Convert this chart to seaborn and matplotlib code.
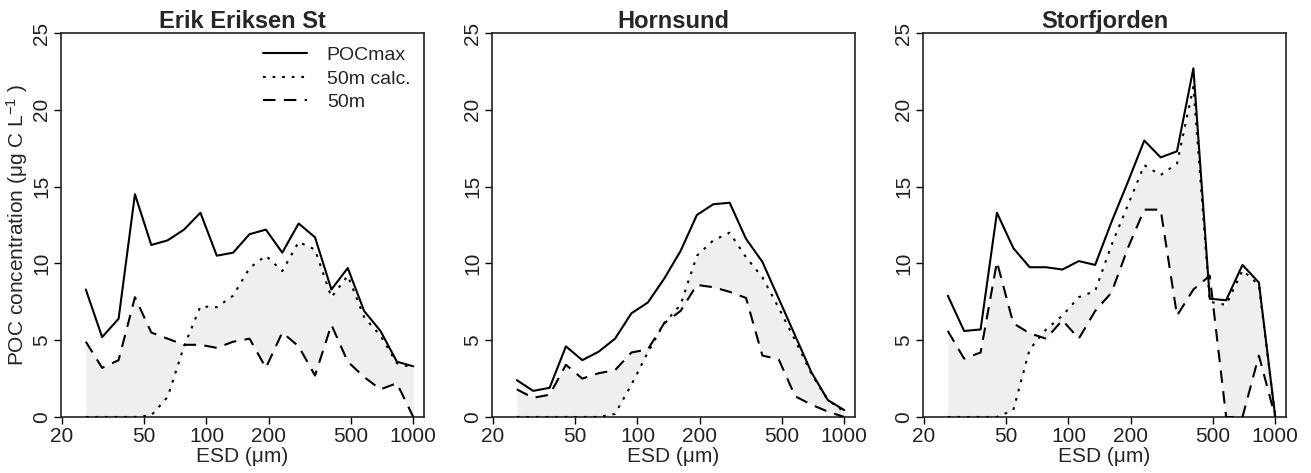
import numpy as np
import pandas as pd
import matplotlib
matplotlib.use("Agg")
import matplotlib.pyplot as plt
import seaborn as sns

# ESD size-class midpoints (um)
esd = [26.1, 31.3, 37.6, 45.1, 54.1, 64.9, 77.9, 93.5, 112.2, 134.6, 161.5,
       193.8, 232.6, 279.1, 334.9, 401.9, 482.3, 578.7, 694.4, 833.3, 1000.0]

stations = ["Erik Eriksen St", "Hornsund", "Storfjorden"]

# Erik Eriksen St
ee_pocmax = [8.3, 5.2, 6.4, 14.5, 11.2, 11.5, 12.2, 13.3, 10.5, 10.7, 11.9,
             12.2, 10.7, 12.6, 11.7, 8.3, 9.7, 6.9, 5.6, 3.6, 3.3]
ee_calc = [0, 0, 0, 0, 0.1, 1.3, 4.6, 7.2, 7.15, 7.9, 9.7,
           10.5, 9.5, 11.4, 10.9, 7.8, 9.2, 6.5, 5.3, 3.5, 3.2]
ee_50m = [4.9, 3.2, 3.7, 7.8, 5.5, 5.1, 4.7, 4.7, 4.5, 4.9, 5.1,
          3.2, 5.5, 4.6, 2.7, 6.0, 3.6, 2.6, 1.8, 2.2, 0.0]

# Hornsund
ho_pocmax = [2.4, 1.7, 1.9, 4.6, 3.7, 4.25, 5.1, 6.75, 7.45, 9.0, 10.8,
             13.15, 13.85, 13.95, 11.6, 10.1, 7.7, 5.3, 2.9, 1.1, 0.45]
ho_calc = [0, 0, 0, 0, 0, 0, 0.2, 2.1, 4.2, 6.1, 7.3,
           10.5, 11.5, 12.0, 10.4, 9.1, 7.1, 5.0, 2.8, 1.1, 0.35]
ho_50m = [1.8, 1.25, 1.45, 3.4, 2.5, 2.85, 3.05, 4.2, 4.4, 6.1, 6.9,
          8.6, 8.45, 8.15, 7.75, 4.0, 3.75, 1.35, 0.8, 0.35, 0.0]

# Storfjorden
st_pocmax = [7.9, 5.6, 5.7, 13.3, 11.0, 9.75, 9.75, 9.6, 10.15, 9.9, 12.7,
             15.3, 18.0, 16.9, 17.3, 22.7, 7.7, 7.6, 9.9, 8.75, 0.0]
st_calc = [0, 0, 0, 0, 0.45, 4.4, 5.7, 6.6, 7.8, 8.2, 11.2,
           13.8, 16.4, 15.75, 16.5, 21.5, 7.5, 7.3, 9.55, 8.6, 0.0]
st_50m = [5.6, 3.8, 4.2, 10.1, 6.1, 5.45, 5.1, 6.3, 5.1, 6.9, 8.1,
          11.0, 13.5, 13.5, 6.6, 8.3, 9.2, 0.0, 0.0, 4.0, 0.0]

series = ["POCmax", "50m calc.", "50m"]
xticks = [20, 50, 100, 200, 500, 1000]
yticks = [0, 5, 10, 15, 20, 25]

sns.set_theme(style="ticks")
plt.rcParams["font.family"] = ["Liberation Sans", "DejaVu Sans"]
plt.rcParams["mathtext.fontset"] = "custom"
plt.rcParams["mathtext.rm"] = "Liberation Sans"
plt.rcParams["mathtext.it"] = "Liberation Sans"

# dash patterns in units of line width (R lty 1 / 3 / 2 look)
dash_map = {"POCmax": None, "50m calc.": (1.3, 3.3), "50m": (6.0, 4.0)}

fig = plt.figure(figsize=(13.11, 4.73), dpi=100)
lefts = [61, 492, 923]
panel_data = [
    (ee_pocmax, ee_calc, ee_50m),
    (ho_pocmax, ho_calc, ho_50m),
    (st_pocmax, st_calc, st_50m),
]

for i, (name, vals) in enumerate(zip(stations, panel_data)):
    ax = fig.add_axes([lefts[i] / 1311, 56 / 473, 363 / 1311, 384 / 473])
    df = pd.DataFrame({"ESD": esd * 3,
                       "POC": vals[0] + vals[1] + vals[2],
                       "series": np.repeat(series, len(esd))})

    # shaded area between calculated and observed 50 m
    ax.fill_between(esd, vals[1], vals[2], color="#efefef", lw=0, zorder=1)

    for s in series:
        sub = df[df["series"] == s]
        sns.lineplot(data=sub, x="ESD", y="POC", ax=ax, color="black",
                     lw=1.5, label=s, legend=False, zorder=3)
        ln = ax.lines[-1]
        if dash_map[s] is not None:
            ln.set_dashes(dash_map[s])
            ln.set_dash_capstyle("butt")

    ax.set_xscale("log")
    ax.set_xlim(19.8, 1127)
    ax.set_ylim(0, 25)
    ax.set_xticks(xticks)
    ax.set_xticklabels([str(t) for t in xticks])
    ax.minorticks_off()
    ax.set_yticks(yticks)
    ax.set_yticklabels([str(t) for t in yticks], rotation=90, va="center")
    ax.tick_params(axis="both", direction="out", length=5, width=1,
                   labelsize=15, pad=2, color="black", labelcolor="#222222")
    for sp in ax.spines.values():
        sp.set_visible(True)
        sp.set_linewidth(1.2)
        sp.set_color("#222222")

    ax.set_xlabel("ESD (μm)", fontsize=15, labelpad=1)
    if i == 0:
        ax.set_ylabel("POC concentration (μg C L$^{-1}$ )", fontsize=15,
                      labelpad=2)
        ax.legend(loc="upper right", frameon=False, fontsize=14,
                  handlelength=2.3, handletextpad=1.0,
                  labelspacing=0.3, borderaxespad=0.3)
    else:
        ax.set_ylabel("")
    ax.set_title(name, fontsize=17, fontweight="bold", pad=2)

fig.savefig("out.png", dpi=100)
